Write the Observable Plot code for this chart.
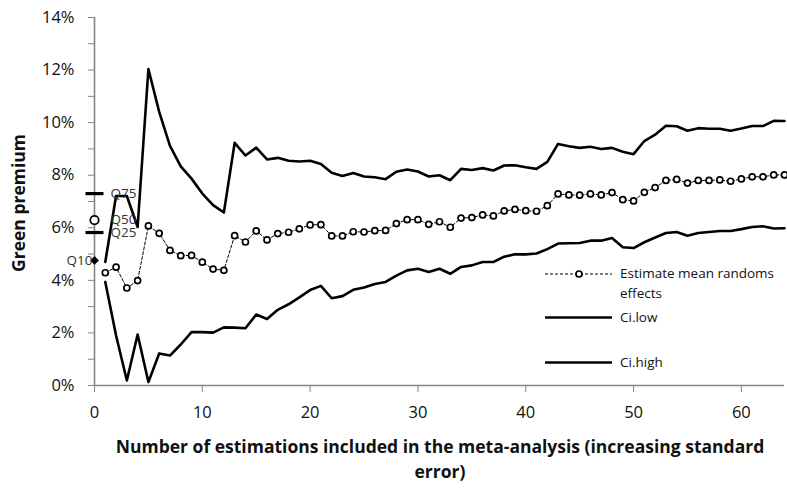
<!DOCTYPE html>
<html><head><meta charset="utf-8">
<script src="https://cdn.jsdelivr.net/npm/d3@7"></script>
<script src="https://cdn.jsdelivr.net/npm/@observablehq/plot@0.6"></script>
<style>body{margin:0;background:#fff} svg{display:block}</style>
</head><body><div id="chart"></div>
<script>
// Number of estimations included (x)
const nEstimations = d3.range(1, 65);
// Estimate mean random effects (%)
const estimate = [4.29,4.50,3.71,3.99,6.07,5.79,5.14,4.94,4.95,4.69,
  4.43,4.38,5.70,5.46,5.88,5.54,5.78,5.83,5.96,6.11,
  6.12,5.69,5.69,5.85,5.84,5.89,5.90,6.16,6.31,6.31,
  6.13,6.23,6.02,6.37,6.39,6.49,6.45,6.64,6.70,6.65,
  6.63,6.84,7.29,7.25,7.24,7.29,7.25,7.34,7.07,7.02,
  7.35,7.53,7.80,7.84,7.70,7.80,7.80,7.82,7.77,7.86,
  7.94,7.94,8.01,8.01];
// Upper confidence bound (%)
const ciHigh = [4.70,7.21,7.21,6.03,12.04,10.41,9.12,8.34,7.87,7.30,
  6.86,6.58,9.23,8.75,9.05,8.60,8.66,8.55,8.52,8.55,
  8.43,8.09,7.97,8.08,7.95,7.92,7.85,8.13,8.22,8.14,
  7.95,8.00,7.81,8.24,8.20,8.27,8.18,8.37,8.38,8.30,
  8.24,8.51,9.19,9.10,9.04,9.08,9.00,9.04,8.89,8.80,
  9.30,9.54,9.88,9.86,9.69,9.79,9.77,9.77,9.69,9.78,
  9.87,9.87,10.07,10.06];
// Lower confidence bound (%)
const ciLow = [3.94,1.90,0.19,1.94,0.13,1.22,1.14,1.56,2.03,2.03,
  2.01,2.21,2.20,2.18,2.70,2.53,2.88,3.09,3.35,3.63,
  3.79,3.32,3.40,3.64,3.73,3.86,3.94,4.18,4.38,4.44,
  4.32,4.44,4.25,4.51,4.57,4.70,4.70,4.90,4.99,4.99,
  5.02,5.19,5.40,5.41,5.42,5.51,5.51,5.61,5.26,5.23,
  5.45,5.63,5.80,5.84,5.70,5.80,5.84,5.88,5.88,5.95,
  6.03,6.06,5.97,5.98];
// Quantile markers at x = 0
const quantileLabels = ["Q10","Q25","Q50","Q75"];
const quantileValues = [4.76,5.82,6.29,7.30];

const xTicks = [0,10,20,30,40,50,60];
const yTicks = [0,2,4,6,8,10,12,14];
const yMinorTicks = [1,3,5,7,9,11,13];

const legendLabels = ["Estimate mean randoms effects","Ci.low","Ci.high"];
const xTitle = ["Number of estimations included in the meta-analysis (increasing standard","error)"];
const yTitle = "Green premium";

const data = nEstimations.map((x, i) => ({x, est: estimate[i], lo: ciLow[i], hi: ciHigh[i]}));
const quant = quantileLabels.map((q, i) => ({q, v: quantileValues[i]}));

const dashSymbol = {draw(ctx, size) { const w = Math.sqrt(size / Math.PI); ctx.rect(-w, -1.6, 2 * w, 3.2); }};
const axisGray = "#868686";

const plot = Plot.plot({
  width: 787, height: 489,
  marginLeft: 94, marginRight: 3, marginTop: 17, marginBottom: 104,
  style: {fontFamily: "'Open Sans', sans-serif", fontSize: "16.5px", background: "#fff", color: "#111"},
  x: {domain: [0, 64]},
  y: {domain: [0, 14]},
  marks: [
    Plot.axisX({ticks: xTicks, tickSize: 7, tickPadding: 14, stroke: axisGray, fill: "#111", label: null, tickFormat: d => d}),
    Plot.axisY({ticks: yTicks, tickSize: 6, tickPadding: 14, stroke: axisGray, fill: "#111", label: null, tickFormat: d => d + "%"}),
    Plot.axisY({ticks: yMinorTicks, tickSize: 6, stroke: axisGray, text: null, label: null}),
    Plot.ruleX([0], {stroke: axisGray, strokeWidth: 1.6}),
    Plot.ruleY([0], {stroke: axisGray, strokeWidth: 1.6}),
    Plot.line(data, {x: "x", y: "hi", stroke: "#000", strokeWidth: 2.6}),
    Plot.line(data, {x: "x", y: "lo", stroke: "#000", strokeWidth: 2.6}),
    Plot.line(data, {x: "x", y: "est", stroke: "#000", strokeWidth: 1, strokeDasharray: "3,2"}),
    Plot.dot(data, {x: "x", y: "est", r: 3, fill: "#fff", stroke: "#000", strokeWidth: 1.7}),
    // quantile markers
    Plot.dot(quant.filter(d => d.q === "Q25" || d.q === "Q75"), {x: 0, y: "v", symbol: dashSymbol, r: 9, fill: "#000", stroke: "none"}),
    Plot.dot(quant.filter(d => d.q === "Q50"), {x: 0, y: "v", r: 4.2, fill: "#fff", stroke: "#000", strokeWidth: 1.8}),
    Plot.dot(quant.filter(d => d.q === "Q10"), {x: 0, y: "v", symbol: "diamond2", r: 3, fill: "#000", stroke: "#000"}),
    Plot.text(quant.filter(d => d.q !== "Q10"), {x: 0, y: "v", text: "q", dx: 16, textAnchor: "start", fill: "#333", fontSize: 13.5}),
    Plot.text(quant.filter(d => d.q === "Q10"), {x: 0, y: "v", text: "q", dx: -2, textAnchor: "end", fill: "#333", fontSize: 13.5})
  ]
});
document.getElementById("chart").appendChild(plot);

// titles and legend
const svg = d3.select(plot);
const g = svg.append("g").attr("font-family", "'Open Sans', sans-serif").attr("fill", "#111");
g.append("text").attr("x", 440).attr("y", 447).attr("text-anchor", "middle").attr("dy", "0.35em")
  .attr("font-weight", "bold").attr("font-size", 17.5).text(xTitle[0]);
g.append("text").attr("x", 440).attr("y", 472).attr("text-anchor", "middle").attr("dy", "0.35em")
  .attr("font-weight", "bold").attr("font-size", 17.5).text(xTitle[1]);
g.append("text").attr("transform", "translate(19,203) rotate(-90)").attr("text-anchor", "middle").attr("dy", "0.35em")
  .attr("font-weight", "bold").attr("font-size", 17.5).text(yTitle);

const lg = g.append("g").attr("font-size", 13.5).attr("text-anchor", "start");
// estimate entry
lg.append("line").attr("x1", 545).attr("x2", 612).attr("y1", 274).attr("y2", 274)
  .attr("stroke", "#000").attr("stroke-width", 1).attr("stroke-dasharray", "3,2");
lg.append("circle").attr("cx", 579).attr("cy", 274).attr("r", 3).attr("fill", "#fff").attr("stroke", "#000").attr("stroke-width", 1.7);
lg.append("text").attr("x", 620).attr("y", 273).attr("dy", "0.35em").text("Estimate mean randoms");
lg.append("text").attr("x", 620).attr("y", 293).attr("dy", "0.35em").text("effects");
// Ci.low
lg.append("line").attr("x1", 545).attr("x2", 612).attr("y1", 317.5).attr("y2", 317.5).attr("stroke", "#000").attr("stroke-width", 2.6);
lg.append("text").attr("x", 620).attr("y", 317).attr("dy", "0.35em").text(legendLabels[1]);
// Ci.high
lg.append("line").attr("x1", 545).attr("x2", 612).attr("y1", 362.5).attr("y2", 362.5).attr("stroke", "#000").attr("stroke-width", 2.6);
lg.append("text").attr("x", 620).attr("y", 362).attr("dy", "0.35em").text(legendLabels[2]);
</script>
</body></html>
